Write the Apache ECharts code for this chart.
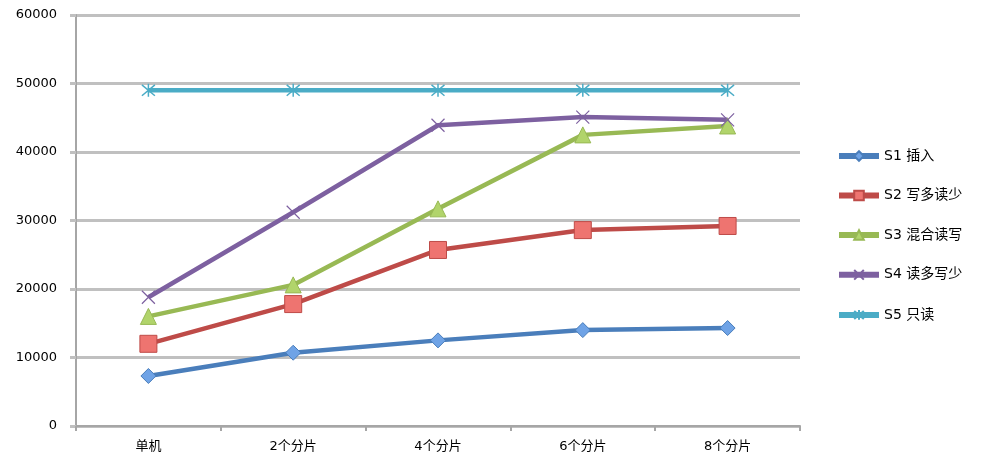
<!DOCTYPE html>
<html>
<head>
<meta charset="utf-8">
<script src="https://cdn.jsdelivr.net/npm/echarts@6/dist/echarts.min.js"></script>
<style>
  html, body { margin: 0; padding: 0; background: #fff; }
  #chart { width: 1008px; height: 468px; }
</style>
</head>
<body>
<div id="chart"></div>
<script>
// 分片数
const categories = ['单机', '2个分片', '4个分片', '6个分片', '8个分片']
const seriesNames = ['S1 插入', 'S2 写多读少', 'S3 混合读写', 'S4 读多写少', 'S5 只读']
const s1 = [7300, 10700, 12500, 14000, 14300]
const s2 = [12000, 17800, 25700, 28600, 29200]
const s3 = [16000, 20600, 31700, 42500, 43800]
const s4 = [18800, 31200, 43900, 45100, 44700]
const s5 = [49000, 49000, 49000, 49000, 49000]
const yTicks = [0, 10000, 20000, 30000, 40000, 50000, 60000]

const font = '"DejaVu Sans", "Noto Sans CJK SC", sans-serif'
const crossPath = 'path://M0,0L10,10M10,0L0,10'
const starPath = 'path://M0,0L10,10M10,0L0,10M5,-1L5,11'

function makeLine(name, data, color, symbol, size, fill, extra) {
  return Object.assign({
    name: name,
    type: 'line',
    data: data,
    symbol: symbol,
    symbolSize: size,
    showAllSymbol: true,
    lineStyle: { color: color, width: 4.5 },
    itemStyle: { color: fill, borderColor: color, borderWidth: 1 },
    emphasis: { disabled: true },
    z: 2
  }, extra || {})
}

const chart = echarts.init(document.getElementById('chart'))
chart.setOption({
  backgroundColor: '#fff',
  animation: false,
  textStyle: { fontFamily: font },
  legend: {
    orient: 'vertical',
    left: 831,
    top: 144,
    itemWidth: 40,
    itemHeight: 12,
    itemGap: 25.5,
    lineStyle: { width: 6 },
    textStyle: { fontSize: 14, color: '#000', fontFamily: font },
    data: seriesNames
  },
  grid: { left: 76, right: 208, top: 15, bottom: 42 },
  xAxis: {
    type: 'category',
    data: categories,
    boundaryGap: true,
    axisLine: { lineStyle: { color: '#a6a6a6', width: 2 } },
    axisTick: { show: true, length: 5, lineStyle: { color: '#a6a6a6', width: 2 } },
    axisLabel: { color: '#000', fontSize: 13, margin: 14, fontFamily: font }
  },
  yAxis: {
    type: 'value',
    min: yTicks[0],
    max: yTicks[yTicks.length - 1],
    interval: 10000,
    axisLine: { show: true, lineStyle: { color: '#a6a6a6', width: 2 } },
    axisTick: { show: true, length: 6, lineStyle: { color: '#c0c0c0', width: 3 } },
    splitLine: { lineStyle: { color: '#c0c0c0', width: 3 } },
    axisLabel: { color: '#000', fontSize: 13, margin: 19, fontFamily: font,
      formatter: function (v) { return String(v) } }
  },
  series: [
    makeLine(seriesNames[0], s1, '#4a7ebb', 'diamond', 15, '#6fa3e6'),
    makeLine(seriesNames[1], s2, '#be4b48', 'rect', 17, '#ee7470'),
    makeLine(seriesNames[2], s3, '#98b954', 'triangle', 16, '#b1d46b'),
    makeLine(seriesNames[3], s4, '#7d60a0', crossPath, 13, 'none',
      { itemStyle: { color: 'none', borderColor: '#7d60a0', borderWidth: 1.2 } }),
    makeLine(seriesNames[4], s5, '#4bacc6', starPath, 13, 'none',
      { itemStyle: { color: 'none', borderColor: '#4bacc6', borderWidth: 1.5 } })
  ]
})
</script>
</body>
</html>
